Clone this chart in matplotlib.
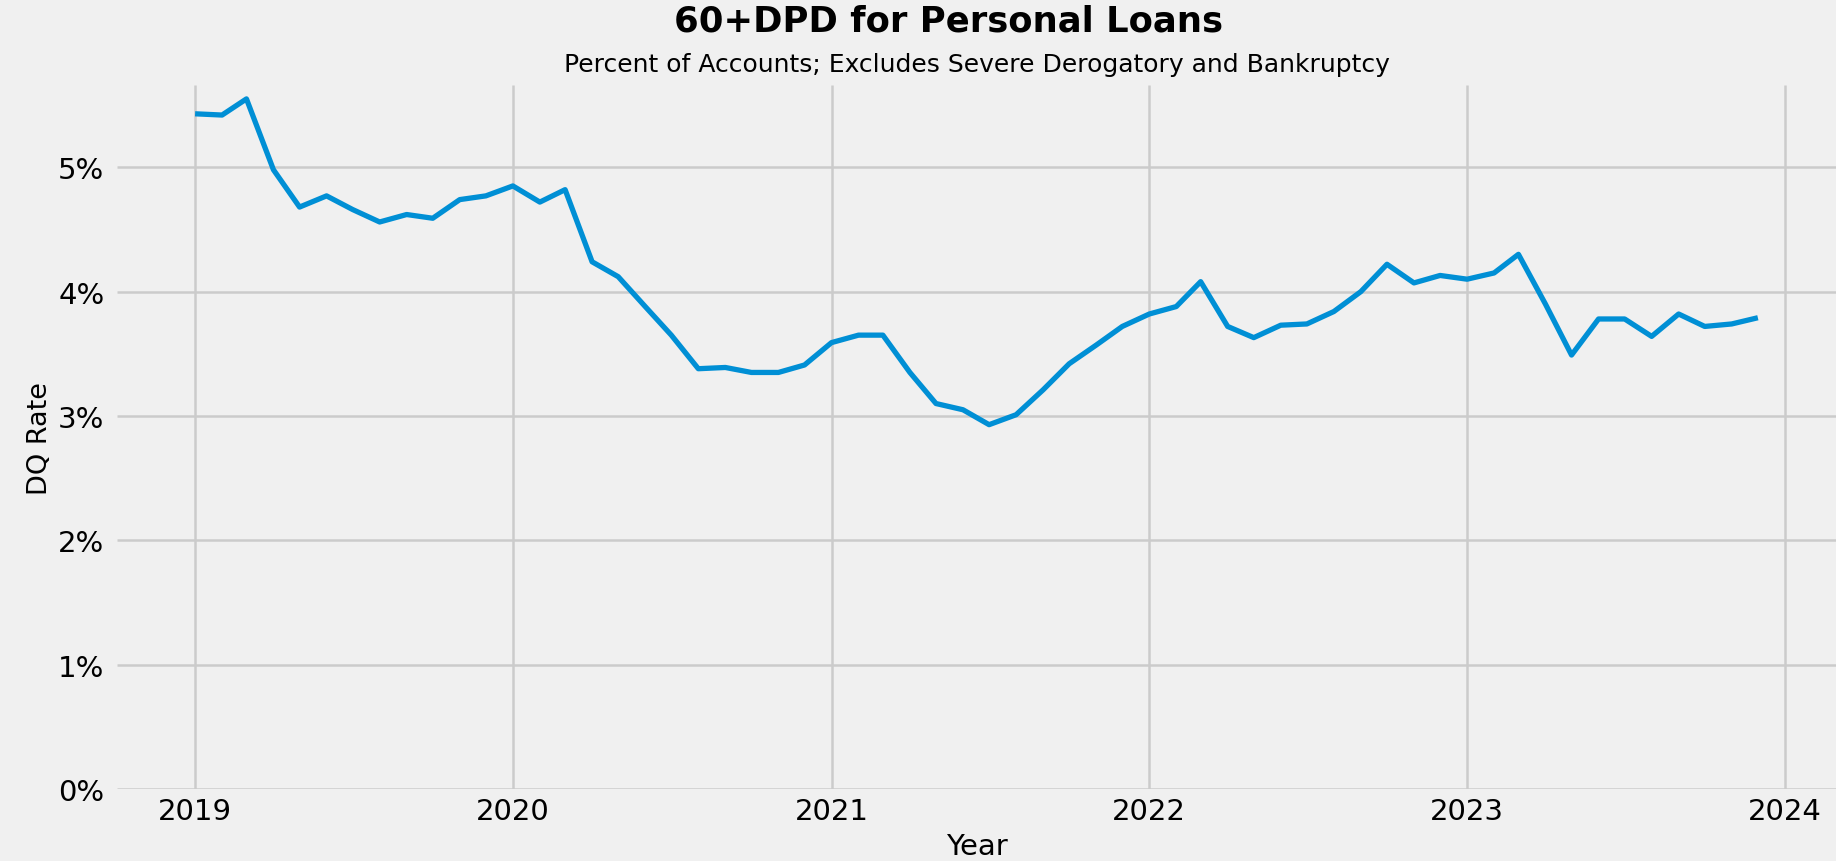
import matplotlib
matplotlib.use("Agg")
import matplotlib.pyplot as plt
import matplotlib.dates as mdates
from matplotlib.ticker import FuncFormatter
import pandas as pd

# monthly 60+ DPD rate (% of accounts), Jan 2019 - Dec 2023
months = pd.date_range("2019-01-01", "2023-12-01", freq="MS")
dq_rate = [
    5.43, 5.42, 5.55, 4.98, 4.68, 4.77, 4.66, 4.56, 4.62, 4.59, 4.74, 4.77,  # 2019
    4.85, 4.72, 4.82, 4.24, 4.12, 3.88, 3.65, 3.38, 3.39, 3.35, 3.35, 3.41,  # 2020
    3.59, 3.65, 3.65, 3.35, 3.10, 3.05, 2.93, 3.01, 3.21, 3.42, 3.57, 3.72,  # 2021
    3.82, 3.88, 4.08, 3.72, 3.63, 3.73, 3.74, 3.84, 4.00, 4.22, 4.07, 4.13,  # 2022
    4.10, 4.15, 4.30, 3.90, 3.49, 3.78, 3.78, 3.64, 3.82, 3.72, 3.74, 3.79,  # 2023
]
year_ticks = pd.date_range("2019-01-01", "2024-01-01", freq="YS")

plt.style.use("fivethirtyeight")
plt.rcParams["font.family"] = ["DejaVu Sans"]

fig = plt.figure(figsize=(18.36, 8.62), dpi=100)
fig.patch.set_facecolor("#f0f0f0")
ax = fig.add_axes([0.0637, 0.0835, 0.9363, 0.8165])
ax.set_facecolor("#f0f0f0")

ax.plot(months, dq_rate, color="#008fd5", lw=3.8)

ax.set_ylim(0, 5.66)
ax.set_xticks(year_ticks)
ax.xaxis.set_major_formatter(mdates.DateFormatter("%Y"))
ax.yaxis.set_major_formatter(FuncFormatter(lambda v, p: f"{v:.0f}%"))
ax.tick_params(axis="both", labelsize=21, length=0)
ax.tick_params(axis="x", pad=6)
ax.tick_params(axis="y", pad=9)
ax.grid(True, color="#cbcbcb", lw=1.8)
for s in ax.spines.values():
    s.set_visible(False)

ax.set_xlabel("Year", fontsize=21, labelpad=5)
ax.set_ylabel("DQ Rate", fontsize=19.5, labelpad=4)
ax.set_title("Percent of Accounts; Excludes Severe Derogatory and Bankruptcy",
             fontsize=18, pad=10)
fig.text(0.5165, 0.975, "60+DPD for Personal Loans", ha="center", va="center",
         fontsize=25.5, fontweight="bold")

fig.savefig("out.png", dpi=100, facecolor=fig.get_facecolor())
